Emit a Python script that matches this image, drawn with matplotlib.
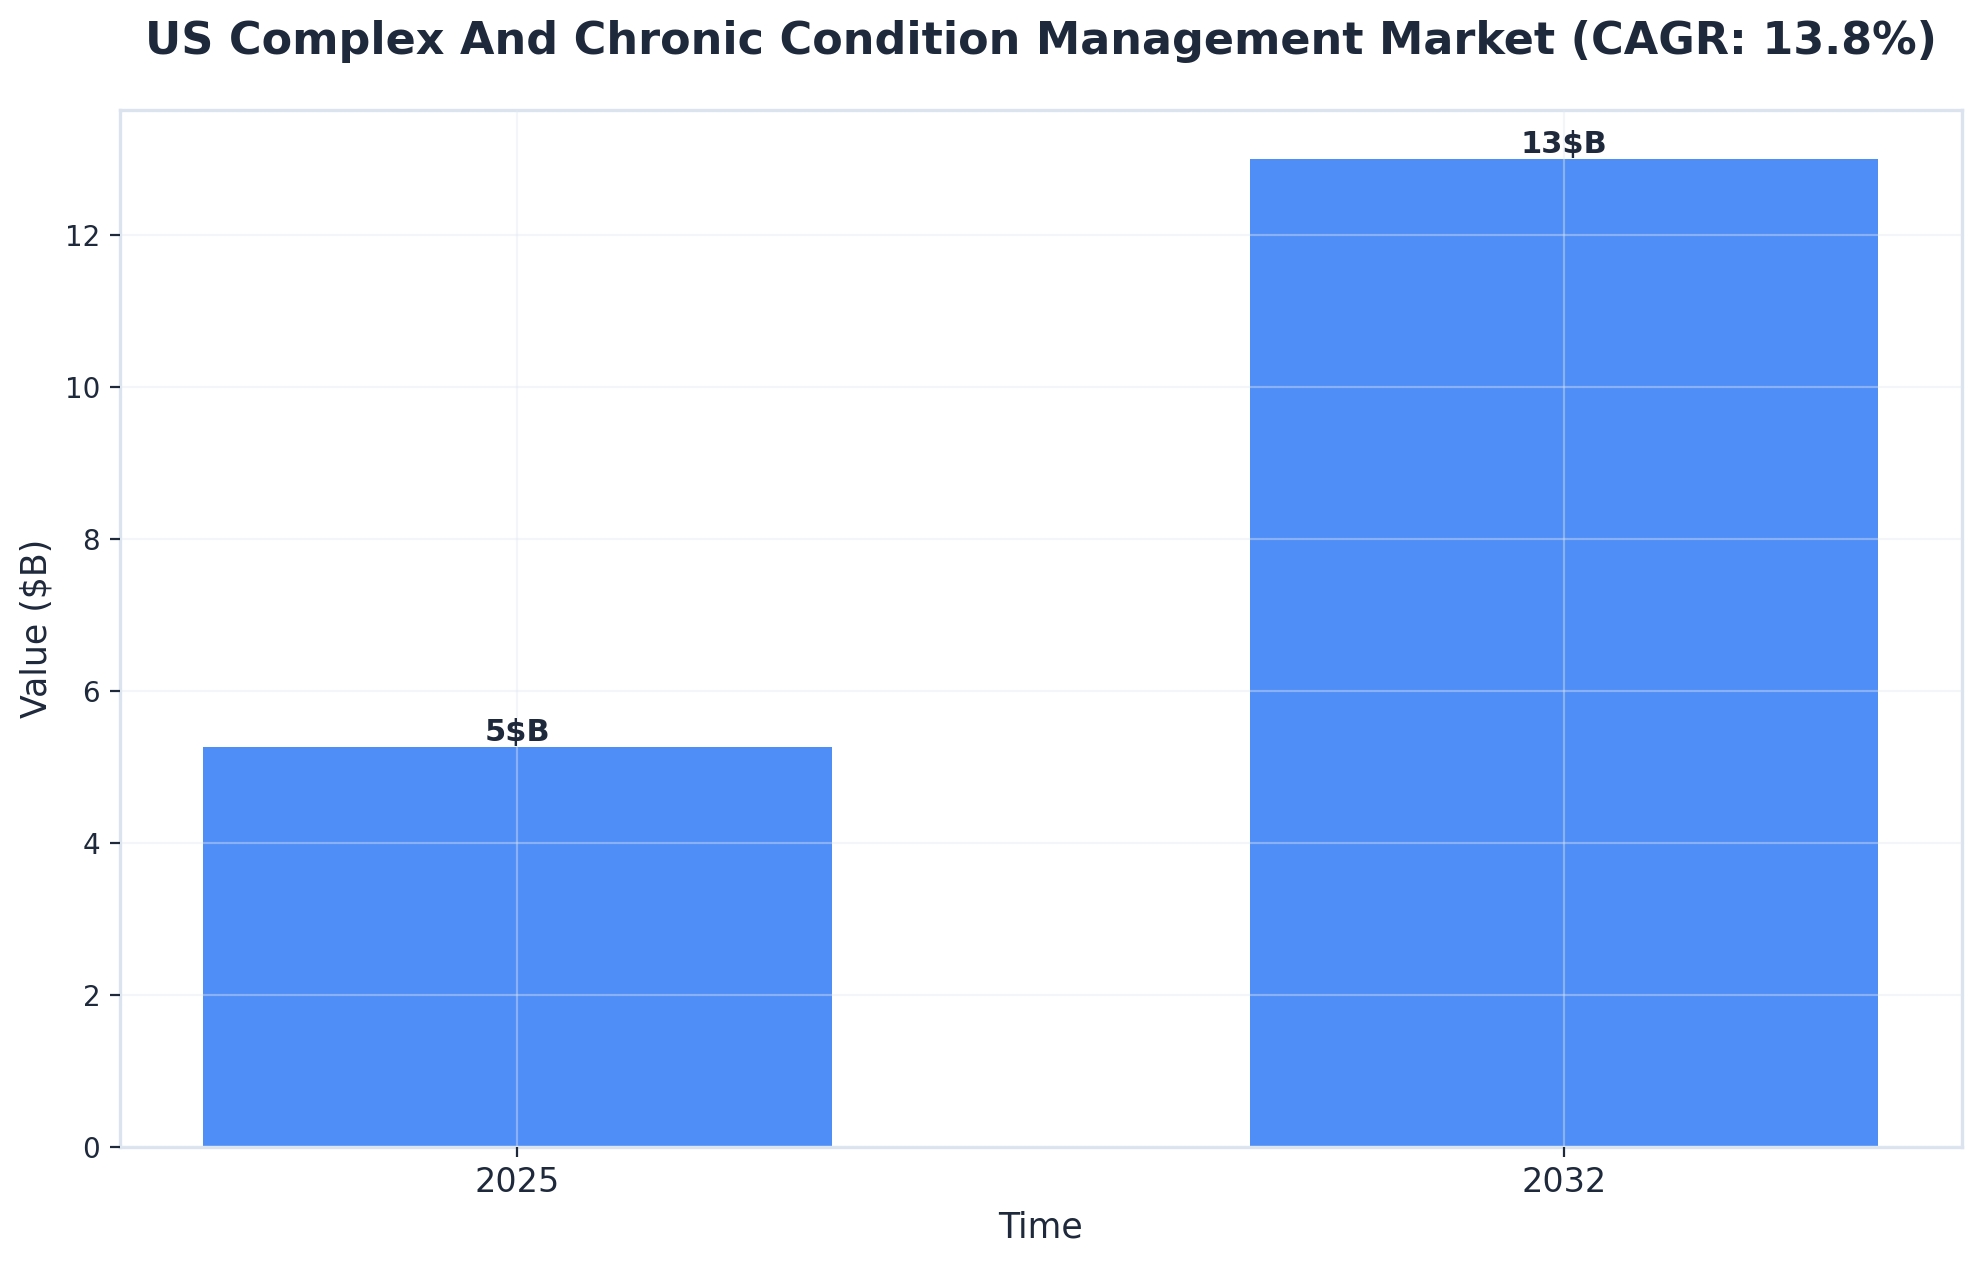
import matplotlib.pyplot as plt

years = ["2025", "2032"]
values = [5.26, 13.0]
labels = ["5$B", "13$B"]

text_color = "#1e293b"
bar_color = "#3b82f6"
spine_color = "#dbe4ee"

fig, ax = plt.subplots(figsize=(9.885, 6.315), dpi=200)
fig.subplots_adjust(left=0.0605, right=0.9925, top=0.913, bottom=0.092)

bars = ax.bar(years, values, width=0.6, color=bar_color, alpha=0.9)

for bar, lab in zip(bars, labels):
    ax.text(bar.get_x() + bar.get_width() / 2, bar.get_height(), lab,
            ha="center", va="bottom", fontsize=11, fontweight="bold", color=text_color)

ax.set_title("US Complex And Chronic Condition Management Market (CAGR: 13.8%)",
             fontsize=16, fontweight="bold", color=text_color, pad=20)
ax.set_xlabel("Time", fontsize=12.5, color=text_color)
ax.set_ylabel("Value ($B)", fontsize=12.5, color=text_color)

ax.tick_params(axis="x", labelsize=12, colors=text_color)
ax.tick_params(axis="y", labelsize=10, colors=text_color)

ax.grid(True, color="#e2e8f0", alpha=0.4, linewidth=0.8)
ax.set_axisbelow(False)
for s in ax.spines.values():
    s.set_color(spine_color)
    s.set_linewidth(1.2)

plt.savefig("out.png", dpi=200)
